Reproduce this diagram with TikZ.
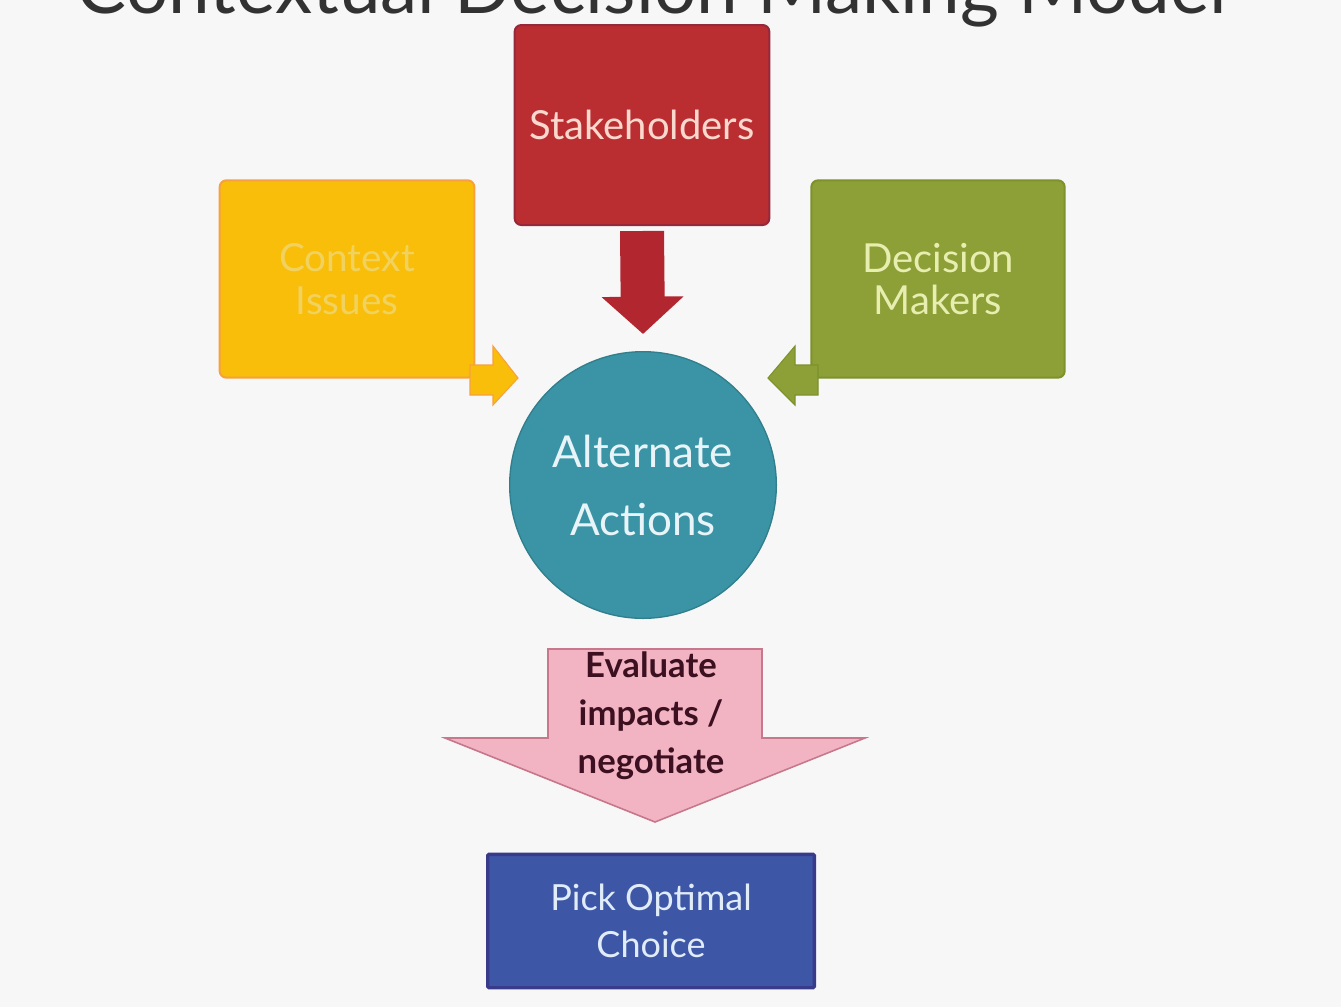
\documentclass[tikz,border=0pt]{standalone}
\usepackage{fontspec}
\setmainfont{Lato}
\usetikzlibrary{arrows.meta,calc}
\definecolor{bgc}{RGB}{247,247,247}
\definecolor{stakefill}{RGB}{186,46,50}
\definecolor{stakeedge}{RGB}{150,40,60}
\definecolor{stakefont}{RGB}{250,216,206}
\definecolor{ctxfill}{RGB}{248,190,10}
\definecolor{ctxedge}{RGB}{247,160,64}
\definecolor{ctxfont}{RGB}{242,210,95}
\definecolor{decfill}{RGB}{141,160,56}
\definecolor{decedge}{RGB}{125,145,45}
\definecolor{decfont}{RGB}{232,238,176}
\definecolor{circfill}{RGB}{58,148,165}
\definecolor{circfont}{RGB}{232,244,248}
\definecolor{evalfill}{RGB}{242,180,195}
\definecolor{evaledge}{RGB}{200,120,140}
\definecolor{evalfont}{RGB}{60,16,32}
\definecolor{pickfill}{RGB}{62,86,166}
\definecolor{pickedge}{RGB}{58,58,138}
\definecolor{pickfont}{RGB}{224,236,248}
\definecolor{arrowred}{RGB}{178,38,48}
\definecolor{titlec}{RGB}{50,50,50}
\tikzset{
  boxbase/.style={rectangle, rounded corners=5pt, align=center, line width=1.5pt, inner sep=0pt},
  stakebox/.style={boxbase, fill=stakefill, draw=stakeedge, text=stakefont,
     minimum width=191pt, minimum height=150pt, font=\fontsize{30}{36}\selectfont},
  ctxbox/.style={boxbase, fill=ctxfill, draw=ctxedge, text=ctxfont,
     minimum width=191pt, minimum height=148pt, font=\fontsize{29}{32}\selectfont},
  decbox/.style={boxbase, fill=decfill, draw=decedge, text=decfont,
     minimum width=190pt, minimum height=148pt, font=\fontsize{30}{32}\selectfont},
  circnode/.style={circle, fill=circfill, draw=circfill!85!black, line width=1pt, text=circfont,
     minimum size=200pt, inner sep=0pt, align=center, font=\fontsize{33}{51}\selectfont},
  pickbox/.style={boxbase, rounded corners=1pt, fill=pickfill, draw=pickedge, line width=2.5pt, text=pickfont,
     minimum width=245pt, minimum height=100pt, font=\fontsize{27}{35}\selectfont},
  evaltext/.style={align=center, text=evalfont, font=\bfseries\fontsize{26}{36}\selectfont},
  bigarrow/.style={line width=33pt, draw=arrowred, -{Triangle[width=60pt,length=28pt]}},
}
\begin{document}
\begin{tikzpicture}[x=0.75pt,y=-0.75pt]
\fill[bgc] (0,0) rectangle (1341,1007);
\useasboundingbox (0,0) rectangle (1341,1007);
\begin{scope}
\clip (0,0) rectangle (1341,1007);
\node[anchor=base, text=titlec, font=\fontsize{56}{60}\selectfont] (title) at (652,13) {Contextual Decision Making Model};
\end{scope}

% nodes
\node[stakebox] (stake) at (642,125) {Stakeholders};
\node[ctxbox] (ctx) at (347,279) {Context\\Issues};
\node[decbox] (dec) at (938,279) {Decision\\Makers};
\node[circnode] (circ) at (643,485) {Alternate\\Actions};
\node[pickbox] (pick) at (651,921) {Pick Optimal\\Choice};

% stakeholders -> circle
\draw[bigarrow] ($(stake.south)+(0,5)$) -- ($(circ.north)+(0,-17)$);

% small arrows from side boxes to circle
\coordinate (ctxtip) at (518,378);
\coordinate (dectip) at (768,378);
\fill[ctxfill, draw=ctxedge, line width=0.8pt]
  (470,365) -- (493,365) -- (493,346) -- (ctxtip) -- (493,405) -- (493,395) -- (470,395) -- cycle;
\fill[decfill, draw=decedge, line width=0.8pt]
  (818,365) -- (795,365) -- (795,346) -- (dectip) -- (795,405) -- (795,395) -- (818,395) -- cycle;

% evaluate arrow from circle to pick
\filldraw[fill=evalfill, draw=evaledge, line width=1.2pt]
  (548,649) -- (762,649) -- (762,738) -- (865,738) -- (655,822) -- (445,738) -- (548,738) -- cycle;
\node[evaltext] (eval) at (651,716) {Evaluate\\impacts /\\negotiate};
\end{tikzpicture}
\end{document}
